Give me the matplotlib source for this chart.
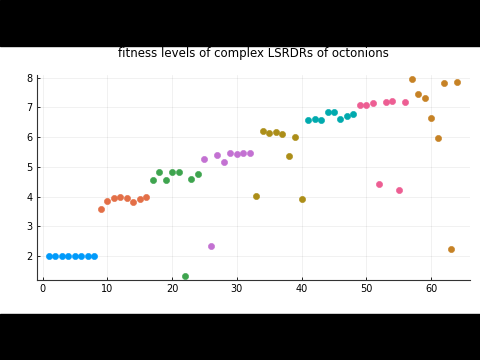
import numpy as np
import matplotlib.pyplot as plt
from matplotlib.patches import Rectangle

# fitness value of each LSRDR run, eight runs per colour group
idx = np.arange(1, 65)
fitness = [
    2.00, 2.00, 2.00, 2.00, 2.00, 2.00, 2.00, 2.00,
    3.58, 3.85, 3.95, 4.00, 3.96, 3.83, 3.90, 4.00,
    4.56, 4.82, 4.56, 4.84, 4.84, 1.34, 4.59, 4.77,
    5.26, 2.34, 5.41, 5.16, 5.48, 5.43, 5.47, 5.47,
    4.03, 6.20, 6.14, 6.16, 6.11, 5.38, 6.02, 3.90,
    6.57, 6.62, 6.58, 6.84, 6.84, 6.60, 6.71, 6.77,
    7.08, 7.09, 7.14, 4.42, 7.18, 7.20, 4.22, 7.19,
    7.97, 7.46, 7.32, 6.64, 5.97, 7.83, 2.24, 7.85,
]
palette = ['#009AFA', '#E36F47', '#3EA44E', '#C371D2',
           '#AC8E18', '#00AAAE', '#ED5E93', '#C68225']

fig = plt.figure(figsize=(4.8, 3.6), dpi=100)
fig.patch.set_facecolor('white')
# letterbox bars
fig.patches.append(Rectangle((0, 0), 1, 46/360, transform=fig.transFigure,
                             color='black', zorder=-1))
fig.patches.append(Rectangle((0, 314/360), 1, 46/360, transform=fig.transFigure,
                             color='black', zorder=-1))

ax = fig.add_axes([37/480, 80/360, 433/480, 205/360])
for g in range(8):
    xs = idx[g*8:(g+1)*8]
    ys = fitness[g*8:(g+1)*8]
    ax.scatter(xs, ys, s=20, color=palette[g], edgecolors=palette[g],
               linewidths=0.4, zorder=3)

ax.set_xlim(-0.85, 66.0)
ax.set_ylim(1.19, 8.09)
ax.set_xticks([0, 10, 20, 30, 40, 50, 60])
ax.set_yticks([2, 3, 4, 5, 6, 7, 8])
ax.grid(True, color='black', alpha=0.08, linewidth=0.5)
ax.tick_params(direction='in', length=2.5, width=0.6, labelsize=7, pad=3)
for s in ['top', 'right']:
    ax.spines[s].set_visible(False)
for s in ['left', 'bottom']:
    ax.spines[s].set_linewidth(0.8)
    ax.spines[s].set_color('#333333')

ax.set_title('fitness levels of complex LSRDRs of octonions', fontsize=8.5, pad=13)

plt.savefig('out.png', dpi=100)
